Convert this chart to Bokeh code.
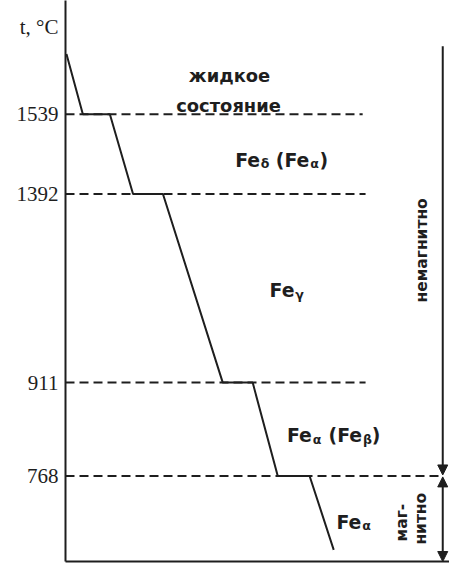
from bokeh.plotting import figure
from bokeh.models import FixedTicker, Range1d, Arrow, NormalHead, ColumnDataSource
from bokeh.core.properties import value
from bokeh.embed import file_html
from bokeh.resources import INLINE
import math

# ---------------- data ----------------
temps = [1539, 1392, 911, 768]              # transformation temperatures, °C
level_pos = [463, 381, 187, 91]             # schematic vertical position of each level
dash_end = [375, 378, 378, 458]             # where each dashed isotherm stops
axis_title = "t, °C"
axis_title_pos = 553

curve_time = [68, 85, 113, 137, 168, 230, 261, 287, 320, 345]
curve_pos = [525, 463, 463, 381, 381, 187, 187, 91, 91, 15]

liquid_text = ["жидкое", "состояние"]
liquid_x = [237, 236]
liquid_y = [503, 472]

# (text, is_subscript); " " is a space advance
phase_pieces = [
    [("Fe", 0), ("δ", 1), (" ", 0), ("(Fe", 0), ("α", 1), (")", 0)],
    [("Fe", 0), ("γ", 1)],
    [("Fe", 0), ("α", 1), (" ", 0), ("(Fe", 0), ("β", 1), (")", 0)],
    [("Fe", 0), ("α", 1)],
]
phase_x = [291, 296, 345, 366]
phase_y = [423, 289, 140, 51]

mag_text = ["немагнитно", "маг-", "нитно"]
mag_x = [437, 416, 435]
mag_y = [323, 43, 47]

mag_axis_x = 458
mag_axis_top = 533
mag_axis_bottom = 3

INK = "#1e1e1e"
FONT = "DejaVu Sans"
S = 0.968                     # overall scale of the drawing
MAIN_SIZE = 19.5 * S
SUB_SIZE = 13 * S

# approximate glyph widths (em) of DejaVu Sans Bold, for laying out subscripts
W = {"F": 0.683, "e": 0.678, " ": 0.348, "(": 0.457, ")": 0.457,
     "δ": 0.67, "α": 0.74, "β": 0.71, "γ": 0.65}


def text_width(s, size):
    return sum(W.get(c, 0.65) for c in s) * size


# ---------------- figure ----------------
p = figure(width=449, height=564,
           x_range=Range1d(67, 465), y_range=Range1d(3, 580),
           output_backend="svg", toolbar_location=None,
           min_border_left=65, min_border_right=0,
           min_border_top=0, min_border_bottom=3)
p.grid.visible = False
p.outline_line_color = None
p.background_fill_color = "white"
p.border_fill_color = "white"

kx = 384 / (465 - 67)         # pixels per data unit, horizontally

# y axis: levels labelled with temperatures
p.yaxis.ticker = FixedTicker(ticks=level_pos + [axis_title_pos])
overrides = {lp: str(t) for lp, t in zip(level_pos, temps)}
overrides[axis_title_pos] = axis_title
p.yaxis.major_label_overrides = overrides
p.yaxis.major_tick_out = 0
p.yaxis.major_tick_in = 0
p.yaxis.minor_tick_out = 0
p.yaxis.minor_tick_in = 0
p.yaxis.major_label_standoff = 7
p.yaxis.major_label_text_font = "Liberation Serif"
p.yaxis.major_label_text_font_size = "21px"
p.yaxis.major_label_text_color = INK
p.yaxis.axis_line_width = 2
p.yaxis.axis_line_color = INK

# x axis: plain line only
p.xaxis.ticker = FixedTicker(ticks=[])
p.xaxis.major_tick_out = 0
p.xaxis.minor_tick_out = 0
p.xaxis.major_label_text_font_size = "0px"
p.xaxis.major_label_standoff = 0
p.xaxis.axis_line_width = 2
p.xaxis.axis_line_color = INK

# dashed isotherms
p.segment(x0=[p.x_range.start] * len(level_pos), y0=level_pos,
          x1=dash_end, y1=level_pos,
          line_color=INK, line_width=2, line_dash="9 5")

# cooling curve
p.line(curve_time, curve_pos, line_color=INK, line_width=2)

# liquid state label
p.text(x=liquid_x, y=liquid_y, text=liquid_text,
       text_font=value(FONT), text_font_style="bold", text_font_size=f"{18.5 * S}px",
       text_color=INK, text_align="center", text_baseline="middle")

# phase labels with subscripts
main = dict(x=[], y=[], t=[])
sub = dict(x=[], y=[], t=[])
for pieces, cx, cy in zip(phase_pieces, phase_x, phase_y):
    total = sum(text_width(s, SUB_SIZE if is_sub else MAIN_SIZE) for s, is_sub in pieces) / kx
    xx = cx - total / 2
    base = cy - 0.36 * MAIN_SIZE / S
    for s, is_sub in pieces:
        size = SUB_SIZE if is_sub else MAIN_SIZE
        if s.strip():
            d = sub if is_sub else main
            d["x"].append(xx)
            d["y"].append(base - 4 if is_sub else base)
            d["t"].append(s)
        xx += text_width(s, size) / kx

p.text(x="x", y="y", text="t", source=ColumnDataSource(main),
       text_font=value(FONT), text_font_style="bold", text_font_size=f"{MAIN_SIZE}px",
       text_color=INK, text_align="left", text_baseline="alphabetic")
p.text(x="x", y="y", text="t", source=ColumnDataSource(sub),
       text_font=value(FONT), text_font_style="bold", text_font_size=f"{SUB_SIZE}px",
       text_color=INK, text_align="left", text_baseline="alphabetic")

# magnetic state labels (vertical)
p.text(x=mag_x, y=mag_y, text=mag_text, angle=math.pi / 2,
       text_font=value(FONT), text_font_style="bold", text_font_size=f"{16 * S}px",
       text_color=INK, text_align="center", text_baseline="middle")

# magnetic ranges arrows
split = level_pos[3]
p.add_layout(Arrow(end=NormalHead(size=10, fill_color=INK, line_color=INK),
                   x_start=mag_axis_x, y_start=mag_axis_top,
                   x_end=mag_axis_x, y_end=split + 1,
                   line_color=INK, line_width=2))
p.add_layout(Arrow(start=NormalHead(size=10, fill_color=INK, line_color=INK),
                   end=NormalHead(size=10, fill_color=INK, line_color=INK),
                   x_start=mag_axis_x, y_start=split - 1,
                   x_end=mag_axis_x, y_end=mag_axis_bottom,
                   line_color=INK, line_width=2))

open("out.html", "w").write(file_html(p, INLINE))
